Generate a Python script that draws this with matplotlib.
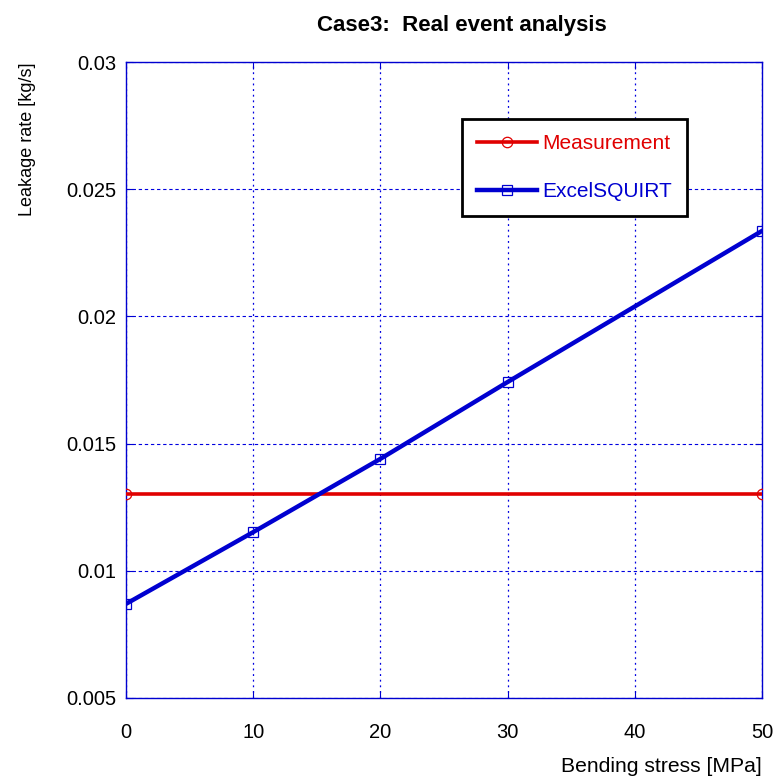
import matplotlib
matplotlib.use("Agg")
import matplotlib.pyplot as plt
from matplotlib.ticker import FixedLocator

plt.rcParams['font.family'] = ['Liberation Sans', 'DejaVu Sans']

# Leakage rate vs bending stress
meas_x = [0, 50]
meas_y = [0.013, 0.013]
squirt_x = [0, 10, 20, 30, 50]
squirt_y = [0.0087, 0.01152, 0.01440, 0.01742, 0.02336]

xticks = [0, 10, 20, 30, 40, 50]
yticks = [0.005, 0.01, 0.015, 0.02, 0.025, 0.03]
ytick_labels = ['0.005', '0.01', '0.015', '0.02', '0.025', '0.03']

fig = plt.figure(figsize=(7.75, 7.79), dpi=100)
ax = fig.add_axes([0.1626, 0.104, 0.8206, 0.8164])

red = '#e00000'
blue = '#0000d0'

ax.plot(meas_x, meas_y, color=red, lw=2.6, marker='o', ms=7.5,
        mfc='none', mec=red, mew=0.9, label='Measurement', zorder=3)
ax.plot(squirt_x, squirt_y, color=blue, lw=3.2, marker='s', ms=7.5,
        mfc='none', mec=blue, mew=0.9, label='ExcelSQUIRT', zorder=3)

ax.set_xlim(0, 50)
ax.set_ylim(0.005, 0.03)
ax.xaxis.set_major_locator(FixedLocator(xticks))
ax.set_yticks(yticks)
ax.set_yticklabels(ytick_labels)

gc = '#0000e0'
ax.xaxis.grid(True, color=gc, linestyle=(0, (1.5, 3)), linewidth=0.9)
ax.yaxis.grid(True, color=gc, linestyle=(0, (3, 2.5)), linewidth=0.8)
for s in ax.spines.values():
    s.set_color('#0000d0')
    s.set_linewidth(1.0)
ax.tick_params(direction='in', colors='#0000d0', labelcolor='black',
               labelsize=14.5, top=True, right=True, length=5)
ax.tick_params(axis='x', pad=18)
ax.tick_params(axis='y', pad=7)

fig.text(462 / 775, 1 - 25 / 779, 'Case3:  Real event analysis', fontsize=16,
         fontweight='bold', ha='center', va='center')
ax.set_xlabel('Bending stress [MPa]', fontsize=15.2, loc='right', labelpad=11)
ax.set_ylabel('Leakage rate [kg/s]', fontsize=13, loc='top', labelpad=22)

leg = ax.legend(loc='upper left', bbox_to_anchor=(0.528, 0.910), fontsize=15,
                frameon=True, fancybox=False, handlelength=2.9,
                borderpad=0.72, labelspacing=1.4, handletextpad=0.25,
                borderaxespad=0)
leg.get_frame().set_edgecolor('black')
leg.get_frame().set_linewidth(2.0)
leg.get_frame().set_alpha(1)
for t, c in zip(leg.get_texts(), [red, blue]):
    t.set_color(c)

fig.savefig('out.png', dpi=100)
